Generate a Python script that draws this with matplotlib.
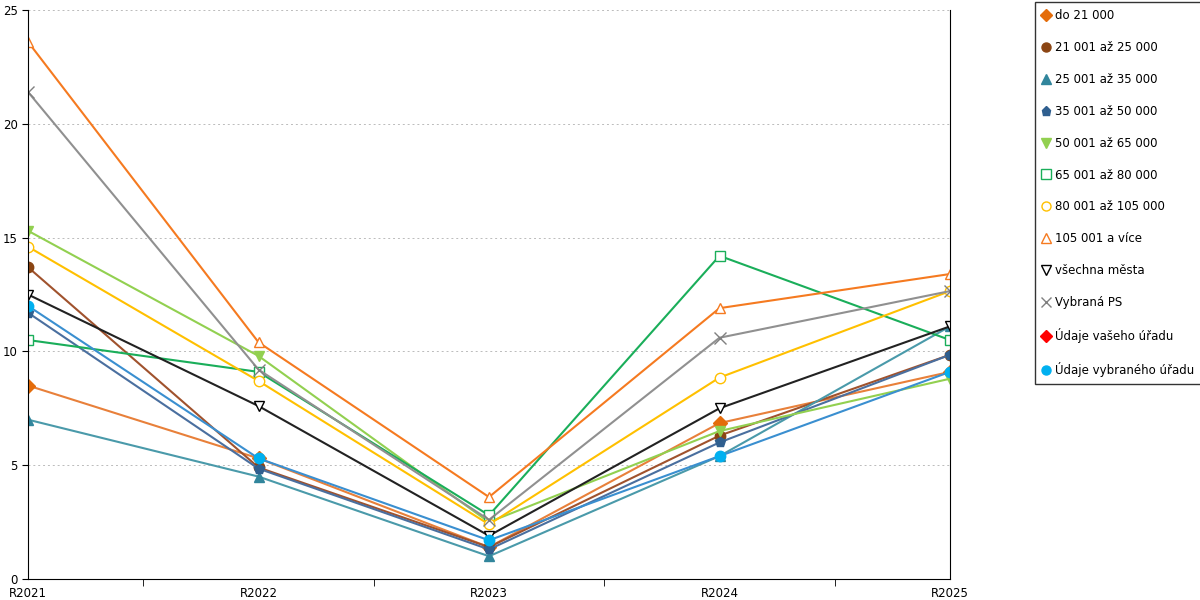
import matplotlib.pyplot as plt
import numpy as np

years = ['R2021', 'R2022', 'R2023', 'R2024', 'R2025']
series_names = ['do 21 000', '21 001 až 25 000', '25 001 až 35 000', '35 001 až 50 000',
                '50 001 až 65 000', '65 001 až 80 000', '80 001 až 105 000', '105 001 a více',
                'všechna města', 'Vybraná PS', 'Údaje vašeho úřadu', 'Údaje vybraného úřadu']
do_21 = [8.5, 5.3, 1.4, 6.85, 9.1]
s21_25 = [13.7, 4.9, 1.4, 6.3, 9.85]
s25_35 = [7.0, 4.5, 1.0, 5.4, 11.1]
s35_50 = [11.7, 4.85, 1.3, 6.0, 9.85]
s50_65 = [15.3, 9.8, 2.5, 6.5, 8.8]
s65_80 = [10.5, 9.1, 2.8, 14.2, 10.5]
s80_105 = [14.6, 8.7, 2.4, 8.85, 12.65]
s105 = [23.6, 10.4, 3.6, 11.9, 13.4]
vsechna = [12.5, 7.6, 1.9, 7.5, 11.1]
vybrana_ps = [21.4, 9.2, 2.6, 10.6, 12.65]
vas_urad = [np.nan] * 5
vybrany_urad = [12.0, 5.3, 1.7, 5.4, 9.1]

data = [do_21, s21_25, s25_35, s35_50, s50_65, s65_80, s80_105, s105,
        vsechna, vybrana_ps, vas_urad, vybrany_urad]
# (marker, marker colour, line colour, filled)
styles = [('D', '#e46c0a', '#e8803a', True),
          ('o', '#8b4513', '#a0522d', True),
          ('^', '#31859c', '#4a9aaa', True),
          ('p', '#2f5f8f', '#4a6f9f', True),
          ('v', '#92d050', '#92d050', True),
          ('s', '#1aae5a', '#1aae5a', False),
          ('o', '#ffc000', '#ffc000', False),
          ('^', '#f57a20', '#f57a20', False),
          ('v', '#000000', '#222222', False),
          ('x', '#808080', '#909090', True),
          ('D', '#ff0000', '#ff0000', True),
          ('o', '#00b0f0', '#3a8fd0', True)]

fig = plt.figure(figsize=(12, 6), dpi=100)
ax = fig.add_axes([28/1200, 21/600, 922/1200, 569/600])
x = np.arange(len(years))
handles = []
for name, vals, (m, mc, lc, filled) in zip(series_names, data, styles):
    ms = 7.5 if m != 'x' else 9
    h, = ax.plot(x, vals, color=lc, lw=1.5, marker=m, markersize=ms,
                 markerfacecolor=mc if filled else 'white', markeredgecolor=mc,
                 markeredgewidth=1.0, label=name)
    handles.append(h)

ax.set_xlim(0, 4)
ax.set_ylim(0, 25)
ax.set_yticks([0, 5, 10, 15, 20, 25])
ax.set_xticks(x)
ax.set_xticklabels(years, fontsize=8.5)
ax.set_xticks(np.arange(0.5, 4, 1), minor=True)
ax.tick_params(axis='x', which='major', length=0, pad=6)
ax.tick_params(axis='x', which='minor', length=5)
ax.tick_params(axis='y', labelsize=8.5, length=4)
ax.yaxis.grid(True, linestyle=(0, (2, 3)), color='#bbbbbb', lw=0.7)
ax.spines['top'].set_visible(False)
ax.spines['right'].set_color('black')

leg = fig.legend(handles=handles, loc='upper left', bbox_to_anchor=(1035/1200, 1 - 2/600),
                 fontsize=8.5, frameon=True, fancybox=False, edgecolor='black',
                 labelspacing=1.6, handlelength=0.6, handletextpad=0.5, borderpad=0.6,
                 borderaxespad=0)
for lh in leg.get_lines():
    lh.set_linestyle('none')
    lh.set_markersize(6.5)

fig.savefig('out.png', dpi=100)
